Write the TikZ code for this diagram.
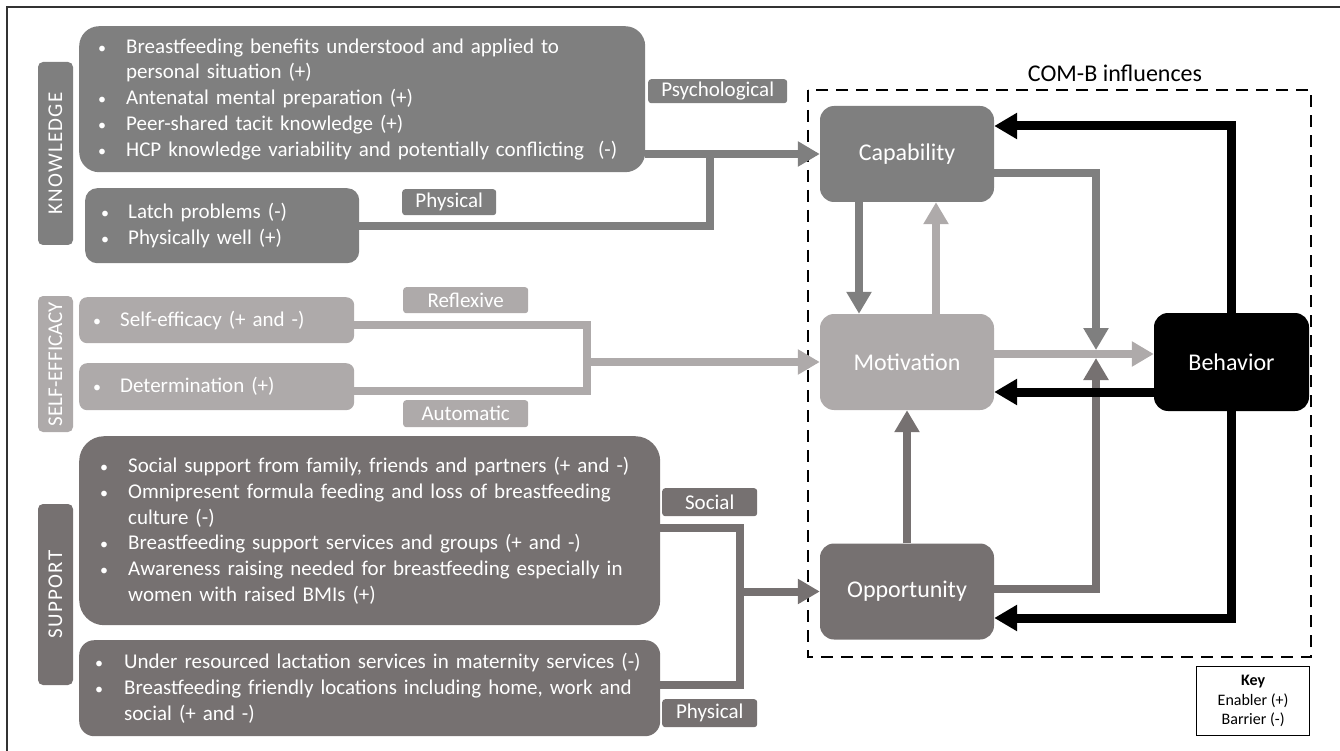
\documentclass[tikz,border=0pt]{standalone}
\usepackage{fontspec}
\setmainfont{Carlito}
\usetikzlibrary{arrows.meta}
\definecolor{cgA}{HTML}{7F7F7F}
\definecolor{cgB}{HTML}{AEAAAA}
\definecolor{cgC}{HTML}{767171}
\newcommand\myfs{\fontsize{21}{25.8}\selectfont}
\newcommand\barfs{\fontsize{21}{25}\selectfont\addfontfeatures{LetterSpace=6}}
\newcommand\cfs{\fontsize{24}{28}\selectfont}
\newcommand\keyfs{\fontsize{16}{19.5}\selectfont}
\newcommand\smbul{{\fontsize{16}{16}\selectfont\textbullet}}
\newcommand\bitem[2][26pt]{\hspace*{-2pt}\makebox[#1][l]{\smbul}\hspace*{2pt}#2}
\newcommand\bcont[2][26pt]{\hspace*{#1}#2}
\begin{document}
\begin{tikzpicture}[x=1pt,y=-1pt,
  box/.style={text=white, font=\myfs, align=left, inner ysep=0pt, anchor=north west},
  lab/.style={rounded corners=3pt, text=white, font=\myfs, inner sep=0pt, anchor=north west},
  bar/.style={rounded corners=5pt, text=white, rotate=90, inner sep=0pt, font=\barfs, minimum height=35pt},
  cnode/.style={rounded corners=14pt, text=white, font=\cfs, minimum width=174pt, minimum height=96pt, inner sep=0pt},
  conn/.style={line width=8pt, line join=miter},
  arr/.style={line width=8pt, line join=miter, -{Triangle[width=24pt,length=22pt]}},
  barr/.style={line width=9pt, line join=miter, -{Triangle[width=25pt,length=23pt]}}
]
\useasboundingbox (0,0) rectangle (1340,751);
\draw[line width=2pt, color=black!80] (7,760) -- (7,7) -- (1350,7);

% left bars
\node[bar, fill=cgA, minimum width=183pt] (kbar) at (55.5,153.5) {KNOWLEDGE};
\node[bar, fill=cgB, minimum width=136pt] (sebar) at (55.5,364) {\addfontfeatures{LetterSpace=0}SELF-EFFICACY};
\node[bar, fill=cgC, minimum width=181pt] (sbar) at (55.5,594.5) {SUPPORT};

% knowledge boxes
\node[box, fill=cgA, rounded corners=20pt, minimum width=566pt, minimum height=146pt, text width=524pt, inner xsep=21pt] (k1) at (79,26)
 {\bitem{Breastfeeding benefits understood and applied to}\\
  \bcont{personal situation (+)}\\
  \bitem{Antenatal mental preparation (+)}\\
  \bitem{Peer-shared tacit knowledge (+)}\\
  \bitem{HCP knowledge variability and potentially conflicting\ \ (-)}};
\node[box, fill=cgA, rounded corners=12pt, minimum width=274pt, minimum height=75pt, text width=238pt, inner xsep=18pt] (k2) at (85,188)
 {\bitem[25pt]{Latch problems (-)}\\
  \bitem[25pt]{Physically well (+)}};

% self-efficacy boxes
\node[box, fill=cgB, rounded corners=8pt, minimum width=275pt, minimum height=46pt, text width=243pt, inner xsep=16pt] (se1) at (79,297)
 {\bitem[25pt]{Self-efficacy (+ and -)}};
\node[box, fill=cgB, rounded corners=8pt, minimum width=275pt, minimum height=47pt, text width=243pt, inner xsep=16pt] (se2) at (79,363)
 {\bitem[25pt]{Determination (+)}};

% support boxes
\node[box, fill=cgC, rounded corners=25pt, minimum width=581pt, minimum height=189pt, text width=535pt, inner xsep=23pt] (s1) at (79,436)
 {\bitem{Social support from family, friends and partners (+ and -)}\\
  \bitem{Omnipresent formula feeding and loss of breastfeeding}\\
  \bcont{culture (-)}\\
  \bitem{Breastfeeding support services and groups (+ and -)}\\
  \bitem{Awareness raising needed for breastfeeding especially in}\\
  \bcont{women with raised BMIs (+)}};
\node[box, fill=cgC, rounded corners=15pt, minimum width=581pt, minimum height=96pt, text width=545pt, inner xsep=18pt] (s2) at (79,640)
 {\bitem[27pt]{Under resourced lactation services in maternity services (-)}\\
  \bitem[27pt]{Breastfeeding friendly locations including home, work and}\\
  \bcont[27pt]{social (+ and -)}};

% labels
\node[lab, fill=cgA, minimum width=139pt, minimum height=24pt] (lpsy) at (648,79) {Psychological};
\node[lab, fill=cgA, minimum width=94pt, minimum height=26pt] (lphy) at (402,189) {Physical};
\node[lab, fill=cgB, minimum width=125pt, minimum height=26pt] (lref) at (403,287) {Reflexive};
\node[lab, fill=cgB, minimum width=125pt, minimum height=27pt] (laut) at (403,400) {Automatic};
\node[lab, fill=cgC, minimum width=95pt, minimum height=28pt] (lsoc) at (662,488) {Social};
\node[lab, fill=cgC, minimum width=95pt, minimum height=28pt] (lphy2) at (662,699) {Physical};

% COM-B
\node[font=\cfs, inner sep=0pt] (title) at (1115,73) {COM-B influences};
\draw[line width=2.5pt, dash pattern=on 12pt off 8pt] (808,90) rectangle (1311,657);
\node[cnode, fill=cgA] (cap) at (907,154) {Capability};
\node[cnode, fill=cgB] (mot) at (907,362) {Motivation};
\node[cnode, fill=cgC] (opp) at (907,591.5) {Opportunity};
\node[cnode, fill=black, minimum width=155pt, minimum height=98pt] (beh) at (1231.5,362) {Behavior};

\node[draw, line width=1.2pt, minimum width=113pt, minimum height=69pt, align=center, font=\keyfs, inner sep=0pt, anchor=north west] (key) at (1196,666)
 {\textbf{Key}\\Enabler (+)\\Barrier (-)};

% coordinates
\coordinate (kj) at (710,154);
\coordinate (sej) at (587,362);
\coordinate (sj) at (740,591.5);
\coordinate (jn) at (1096,354);

% left connectors
\draw[conn, cgA] (k2.east) -| (kj);
\draw[arr, cgA] (k1.east |- cap.west) -- (cap.west);
\draw[conn, cgB] ([yshift=-5pt]se1.east) -| (sej) |- ([yshift=-4.5pt]se2.east);
\draw[arr, cgB] (sej) -- (mot.west);
\draw[conn, cgC] ([yshift=2.5pt]s1.east) -| (sj) |- ([yshift=3pt]s2.east);
\draw[arr, cgC] (sj) -- (opp.west);

% COM-B connectors
\draw[arr, cgA] ([xshift=-48pt]cap.south) -- ([xshift=-48pt]mot.north);
\draw[arr, cgB] ([xshift=29pt]mot.north) -- ([xshift=29pt]cap.south);
\draw[arr, cgC] (opp.north) -- (mot.south);
\draw[arr, cgA] ([yshift=-19pt]cap.east) -| ([yshift=4pt]jn);
\draw[arr, cgC] ([yshift=3pt]opp.east) -| ([yshift=-4pt]jn);
\draw[arr, cgB] ([yshift=8pt]mot.east) -- ([yshift=8pt]beh.west);
\draw[barr] (beh.north) |- ([yshift=28pt]cap.east);
\draw[barr] ([yshift=-30pt]beh.west) -- ([yshift=-30pt]mot.east);
\draw[barr] (beh.south) |- ([yshift=-26.5pt]opp.east);
\end{tikzpicture}
\end{document}
